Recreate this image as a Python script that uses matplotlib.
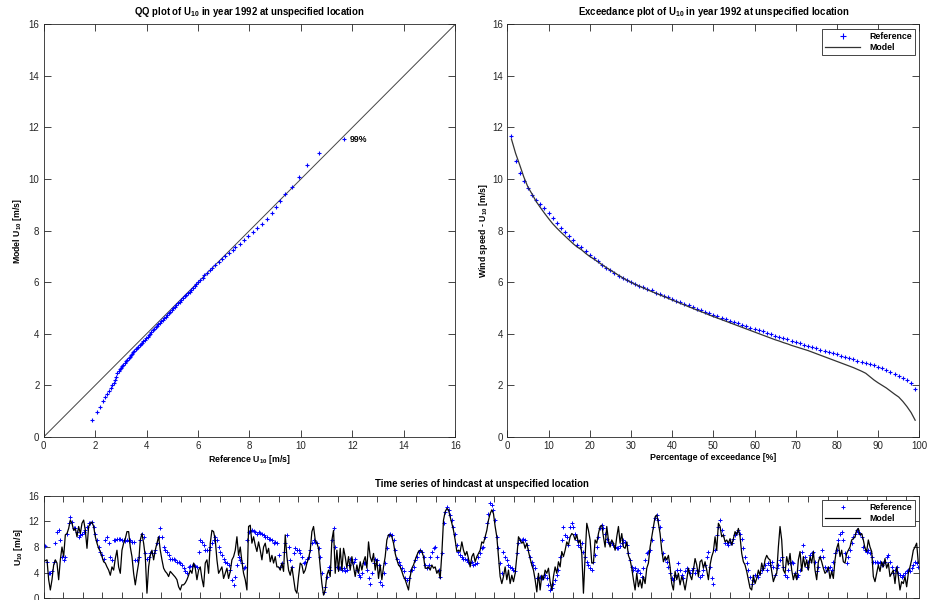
import numpy as np
import matplotlib
matplotlib.use("Agg")
import matplotlib.pyplot as plt

plt.rcParams['font.family'] = ['Liberation Sans', 'DejaVu Sans']
plt.rcParams['mathtext.fontset'] = 'custom'
plt.rcParams['mathtext.rm'] = 'Liberation Sans'
plt.rcParams['mathtext.bf'] = 'Liberation Sans:bold'
plt.rcParams['mathtext.default'] = 'bf'

# exceedance percentages 1..99 and the matching quantiles (m/s)
exceed_pct = list(range(1, 100))
ref_quant = [11.68, 10.71, 10.22, 9.94, 9.64, 9.40, 9.19, 9.03, 8.86, 8.68,
             8.49, 8.31, 8.12, 7.95, 7.79, 7.62, 7.45, 7.35, 7.21, 7.05,
             6.94, 6.81, 6.67, 6.56, 6.46, 6.34, 6.24, 6.18, 6.09, 5.99,
             5.93, 5.87, 5.81, 5.74, 5.68, 5.60, 5.54, 5.48, 5.42, 5.35,
             5.29, 5.22, 5.16, 5.10, 5.04, 4.98, 4.92, 4.86, 4.80, 4.74,
             4.68, 4.63, 4.57, 4.51, 4.46, 4.41, 4.35, 4.30, 4.24, 4.19,
             4.14, 4.09, 4.04, 3.98, 3.93, 3.88, 3.83, 3.78, 3.73, 3.68,
             3.63, 3.58, 3.53, 3.49, 3.44, 3.39, 3.35, 3.30, 3.25, 3.20,
             3.15, 3.10, 3.05, 3.01, 2.96, 2.91, 2.87, 2.82, 2.78, 2.73,
             2.66, 2.60, 2.53, 2.45, 2.38, 2.30, 2.19, 2.08, 1.87]
model_quant = [11.55, 11.00, 10.55, 10.08, 9.69, 9.42, 9.13, 8.90, 8.68, 8.47,
               8.27, 8.10, 7.94, 7.79, 7.64, 7.49, 7.36, 7.26, 7.12, 7.00,
               6.90, 6.79, 6.68, 6.57, 6.47, 6.37, 6.27, 6.17, 6.08, 6.00,
               5.92, 5.85, 5.78, 5.71, 5.64, 5.58, 5.51, 5.45, 5.38, 5.31,
               5.25, 5.18, 5.12, 5.05, 4.99, 4.92, 4.86, 4.80, 4.73, 4.67,
               4.61, 4.55, 4.49, 4.43, 4.37, 4.31, 4.25, 4.19, 4.13, 4.07,
               4.01, 3.95, 3.89, 3.83, 3.77, 3.72, 3.66, 3.61, 3.55, 3.50,
               3.45, 3.40, 3.35, 3.29, 3.23, 3.17, 3.11, 3.05, 2.99, 2.93,
               2.87, 2.81, 2.75, 2.69, 2.62, 2.55, 2.47, 2.34, 2.21, 2.10,
               2.00, 1.90, 1.78, 1.66, 1.55, 1.38, 1.18, 0.95, 0.65]

# hindcast time series, one value every 17 h
ts_step_h = 17
ref_ts = [
    8.3, 8.2, 5.7, 3.9, 3.9, 4.2, 5.7, 8.6, 10.4, 10.6,
    9.1, 6.5, 6.0, 6.5, 10.1, 11.7, 12.7, 11.9, 10.9, 10.9,
    10.4, 9.6, 9.9, 10.1, 10.4, 10.6, 11.2, 11.7, 11.7, 11.9,
    11.2, 10.1, 9.1, 8.0, 7.3, 6.7, 6.2, 9.1, 9.6, 8.6,
    6.5, 6.0, 9.1, 9.1, 9.2, 9.3, 9.2, 9.1, 9.1, 9.0,
    9.1, 9.0, 9.1, 8.8, 8.8, 6.0, 6.0, 6.5, 9.1, 10.1,
    9.6, 7.0, 6.2, 6.5, 7.0, 7.0, 7.0, 7.5, 8.6, 9.6,
    10.9, 9.6, 8.0, 7.5, 7.3, 6.7, 6.2, 6.2, 6.2, 6.0,
    5.7, 5.7, 5.5, 5.2, 4.7, 4.2, 3.9, 4.9,
    5.0, 5.0, 5.2, 5.0, 4.9, 7.3, 9.1, 8.8, 8.3, 7.5,
    7.5, 7.6, 8.0, 8.6, 9.1, 9.6, 9.1, 8.0, 7.3, 6.7,
    6.2, 5.7, 5.5, 5.2, 4.4, 2.9, 2.1, 3.4, 5.2, 6.5,
    6.0, 5.5, 4.7, 4.9, 9.1, 10.4, 10.5, 10.6, 10.5, 10.4,
    10.1, 10.4, 10.2, 10.1, 9.9, 9.6, 9.5, 9.3, 9.2, 9.1,
    8.6, 8.8, 8.6, 6.7, 4.9, 5.5, 7.3, 8.6, 9.9, 8.0,
    6.0, 4.9, 7.0, 7.8, 7.6, 7.5, 7.0, 6.5, 5.5, 5.7,
    6.1, 6.5, 7.5, 8.6, 9.1, 8.8, 8.6, 7.8, 6.5, 3.9,
    1.0, 1.8, 3.4, 4.9, 4.4, 9.1, 10.9,
    8.0, 4.9, 4.7, 4.7, 4.4, 4.7, 4.2, 4.4, 5.2, 6.2,
    5.7, 5.7, 6.2, 4.4, 3.6, 3.4, 3.9, 5.5, 5.5, 4.4,
    3.1, 2.3, 3.9, 5.5, 6.2, 6.0, 5.2, 2.6, 2.1, 3.9,
    5.5, 7.8, 9.9, 10.1, 9.9, 9.1, 7.5, 6.2, 5.7, 5.2,
    4.7, 4.2, 3.1, 2.9, 3.1, 4.2, 4.4, 4.9, 6.0, 6.5,
    7.3, 7.5, 7.3, 6.5, 5.2, 4.7, 5.2, 6.5, 7.3, 7.8,
    8.0, 6.5, 4.4, 3.4, 7.0, 11.7, 13.5, 14.3, 13.8, 13.0,
    12.2, 11.2, 10.1, 8.3, 7.3, 6.7, 6.5, 6.2, 6.1, 6.0,
    5.7, 5.5, 5.7, 5.2, 5.3, 5.5, 6.5,
    7.0, 7.8, 8.0, 9.6, 11.7, 13.2, 14.8, 14.5, 13.8, 12.2,
    9.6, 7.8, 5.5, 3.9, 7.3, 6.5, 6.0, 5.2, 4.9, 4.7,
    4.4, 4.2, 7.0, 8.6, 9.1, 9.1, 9.3, 9.1, 8.3, 7.5,
    6.5, 5.7, 5.2, 4.7, 3.1, 3.1, 3.4, 3.1, 3.4, 3.6,
    3.1, 2.1, 1.3, 1.6, 2.3, 2.9, 3.6, 4.4, 6.5, 9.1,
    11.2, 9.9, 9.6, 8.3, 11.2, 11.7, 11.2, 10.1, 9.1, 8.3,
    8.0, 8.6, 7.3, 6.5, 5.7, 5.2, 4.7, 4.4, 5.7, 6.7,
    8.0, 9.6, 10.9, 11.4, 10.9, 10.1, 9.3, 8.8, 8.7, 8.6,
    8.3, 8.0, 7.8, 7.8, 8.2, 8.6, 9.1,
    8.8, 8.3, 7.0, 6.0, 4.9, 4.4, 4.7, 4.2, 4.4, 3.9,
    3.4, 4.7, 6.0, 7.0, 7.3, 7.5, 9.1, 11.2, 12.5, 13.0,
    12.2, 11.2, 9.1, 7.0, 6.2, 5.7, 4.9, 3.9, 3.1, 2.9,
    3.6, 4.4, 5.5, 4.4, 3.6, 3.1, 4.2, 4.7, 4.4, 3.9,
    4.4, 4.7, 3.9, 4.4, 4.2, 3.4, 3.6, 4.4, 5.2, 6.5,
    7.3, 4.9, 3.1, 2.3, 7.5, 9.9, 11.2, 12.2, 10.6, 9.9,
    8.6, 8.6, 8.3, 8.8, 8.6, 9.3, 9.9, 10.4, 10.6, 10.1,
    9.3, 7.8, 6.5, 5.5, 4.4, 3.4, 2.3, 2.9, 3.6, 3.6,
    3.4, 3.9, 4.4, 4.7, 5.2, 4.4, 5.5,
    5.2, 5.7, 4.9, 3.6, 4.7, 5.2, 6.0, 6.5, 4.9, 3.6,
    3.4, 4.4, 5.5, 5.7, 5.5, 3.9, 3.4, 3.6, 4.4, 7.3,
    8.3, 6.5, 4.9, 5.7, 6.7, 7.0, 7.3, 5.7, 4.2, 4.9,
    6.5, 7.5, 6.5, 4.9, 4.4, 4.7, 4.9, 4.4, 5.7, 7.0,
    7.5, 9.1, 10.1, 10.4, 9.1, 7.0, 5.5, 6.5, 7.5, 8.6,
    9.6, 10.1, 10.6, 10.4, 10.1, 9.6, 8.0, 7.5, 7.3, 7.5,
    7.0, 6.5, 5.7, 5.7, 5.7, 5.5, 5.7, 5.2, 5.5, 5.7,
    6.5, 6.7, 5.7, 4.9, 3.9, 4.4, 4.9, 3.9, 3.6, 3.4,
    3.6, 3.9, 4.2, 4.4, 4.2, 4.7, 5.2, 5.7, 5.5, 4.9]
model_ts = [
    5.7, 5.9, 6.0, 2.9, 1.3, 2.9, 5.2, 6.0, 5.5, 2.9,
    6.0, 8.0, 6.5, 9.9, 10.1, 10.9, 12.2, 11.7, 10.6, 10.9,
    9.6, 11.2, 10.1, 11.7, 12.2, 10.6, 7.8, 11.2, 11.7, 11.9,
    11.2, 9.6, 8.6, 7.8, 7.3, 6.5, 5.7, 5.5, 4.9, 4.4,
    3.6, 4.9, 4.4, 6.2, 7.5, 4.9, 3.9, 7.5, 8.6, 9.3,
    10.4, 10.4, 8.0, 6.5, 3.9, 2.1, 3.9, 5.5, 9.1, 10.1,
    8.6, 6.5, 0.8, 4.9, 6.7, 7.5, 6.0, 7.5, 8.6, 9.6,
    7.5, 6.0, 4.7, 4.2, 3.9, 3.4, 4.2, 3.9, 3.6, 3.3,
    2.9, 1.8, 1.3, 2.1, 2.1, 2.4, 2.9, 3.6,
    4.4, 3.9, 5.5, 4.7, 2.9, 4.4, 4.9, 3.1, 1.8, 5.5,
    6.0, 3.9, 8.6, 10.6, 10.4, 9.1, 6.0, 3.9, 4.4, 4.9,
    3.1, 3.9, 4.7, 3.1, 4.2, 6.0, 6.5, 7.5, 9.6, 6.7,
    8.0, 5.7, 3.9, 2.9, 1.3, 11.2, 11.4, 8.6, 9.6, 8.3,
    7.3, 8.8, 7.5, 6.0, 8.0, 8.6, 7.0, 7.8, 5.7, 6.7,
    5.5, 6.5, 4.9, 4.9, 4.4, 5.5, 4.2, 9.9, 6.5, 4.4,
    3.6, 4.9, 3.1, 1.3, 0.8, 3.4, 5.5, 5.2, 3.9, 4.4,
    5.5, 6.2, 7.5, 10.4, 11.2, 9.1, 8.6, 7.8, 4.9, 2.3,
    0.5, 1.3, 3.6, 4.4, 3.4, 9.1, 10.6,
    3.9, 7.5, 4.2, 7.8, 4.4, 7.8, 6.5, 4.7, 6.5, 4.4,
    6.5, 4.9, 3.4, 5.2, 3.9, 5.7, 4.4, 5.7, 6.5, 4.7,
    8.8, 6.5, 5.7, 7.0, 4.4, 6.0, 3.1, 5.2, 2.9, 4.9,
    6.5, 9.1, 9.9, 9.9, 9.6, 8.6, 7.0, 6.0, 5.2, 4.9,
    4.2, 3.4, 2.9, 2.1, 1.3, 3.4, 4.7, 5.2, 6.0, 6.7,
    7.3, 7.5, 7.3, 6.5, 4.7, 4.7, 4.9, 4.4, 5.2, 4.7,
    4.9, 3.9, 4.4, 3.1, 7.0, 12.2, 13.5, 14.0, 13.8, 12.7,
    11.7, 10.6, 9.1, 7.3, 7.5, 7.3, 8.8, 7.5, 6.7, 7.3,
    6.2, 4.9, 6.5, 7.0, 5.7, 6.5, 7.0,
    7.5, 8.8, 8.6, 9.6, 10.6, 12.2, 13.2, 13.8, 13.2, 11.2,
    9.6, 6.5, 3.4, 2.3, 3.4, 4.9, 2.9, 4.4, 2.3, 3.6,
    2.6, 3.9, 6.5, 9.6, 9.1, 8.6, 8.8, 7.8, 8.6, 7.3,
    6.2, 5.2, 4.4, 2.9, 1.0, 3.9, 1.3, 3.6, 2.9, 4.4,
    3.9, 4.7, 2.6, 1.3, 3.4, 4.9, 3.9, 5.7, 4.9, 7.3,
    6.5, 7.5, 8.8, 8.3, 9.6, 10.1, 9.9, 9.1, 9.9, 8.6,
    9.1, 7.0, 0.8, 6.5, 11.7, 10.6, 9.1, 5.5, 5.5, 9.1,
    8.6, 10.1, 11.2, 11.4, 9.6, 8.0, 11.2, 9.1, 8.0, 9.1,
    8.6, 7.5, 9.6, 11.2, 8.6, 10.1, 8.0,
    7.8, 8.8, 6.7, 6.0, 4.7, 2.9, 1.3, 3.9, 1.8, 2.9,
    1.6, 3.4, 2.3, 4.7, 5.5, 8.0, 9.6, 11.2, 12.7, 13.0,
    11.7, 10.1, 7.5, 5.7, 6.5, 6.0, 6.7, 4.9, 2.3, 1.3,
    4.2, 2.9, 3.9, 2.1, 3.4, 2.6, 1.3, 2.9, 4.7, 3.6,
    2.9, 4.4, 6.2, 5.2, 3.4, 5.7, 6.0, 4.7, 5.7, 4.4,
    2.9, 5.2, 6.5, 7.3, 9.6, 7.5, 11.7, 11.2, 9.6, 9.9,
    8.8, 9.1, 8.6, 9.3, 8.3, 9.3, 10.4, 9.9, 10.9, 9.6,
    7.0, 5.7, 5.2, 4.2, 2.9, 1.6, 1.3, 3.6, 2.3, 3.1,
    4.4, 3.6, 5.5, 4.4, 6.0, 6.7, 6.2,
    6.0, 4.2, 2.6, 3.4, 3.9, 8.0, 11.2, 9.1, 4.4, 3.9,
    6.5, 5.2, 7.0, 4.4, 2.9, 3.9, 2.9, 6.0, 7.3, 4.2,
    6.5, 4.9, 6.0, 4.4, 6.5, 5.5, 7.3, 4.4, 2.9, 5.7,
    6.5, 5.7, 4.7, 3.9, 4.2, 4.9, 3.1, 4.2, 3.1, 6.0,
    7.8, 8.6, 6.5, 7.5, 5.7, 5.5, 7.0, 7.5, 8.0, 9.1,
    9.3, 9.6, 10.6, 10.9, 9.9, 10.1, 9.1, 7.8, 7.3, 9.1,
    8.0, 7.3, 3.4, 2.6, 3.9, 5.2, 4.2, 5.7, 4.9, 6.2,
    4.7, 5.5, 3.4, 3.9, 4.4, 2.3, 4.9, 3.4, 1.3, 2.6,
    2.3, 3.4, 1.8, 3.9, 4.9, 6.0, 7.5, 8.0, 8.6, 5.5]

ts_hours = np.arange(len(ref_ts)) * ts_step_h

BLUE = '#0000ff'
AXC = '#262626'
LBL = 6.3


def style_axes(ax, ticklen=5):
    ax.tick_params(direction='in', top=True, right=True, length=ticklen,
                   width=0.6, colors=AXC, labelsize=7, labelcolor=AXC, pad=3)
    for s in ax.spines.values():
        s.set_color(AXC)
        s.set_linewidth(0.6)


def add_legend(ax):
    leg = ax.legend(loc='upper right', frameon=True, fancybox=False,
                    handlelength=4.0, borderaxespad=0.5, borderpad=0.35,
                    labelspacing=0.25, handletextpad=1.0, framealpha=1,
                    markerscale=1.2, prop={'weight': 'bold', 'size': LBL})
    leg.get_frame().set_edgecolor(AXC)
    leg.get_frame().set_linewidth(0.6)


fig = plt.figure(figsize=(9.35, 6.0), dpi=100)

# QQ plot
ax1 = fig.add_axes([0.0467, 0.2717, 0.4402, 0.6878])
ax1.plot([0, 16], [0, 16], color='#444444', lw=0.7)
ax1.plot(ref_quant, model_quant, '+', color=BLUE, ms=3.5, mew=0.8)
ax1.text(ref_quant[0] + 0.2, model_quant[0], '99%', fontsize=LBL,
         fontweight='bold', va='center', ha='left')
ax1.set_xlim(0, 16)
ax1.set_ylim(0, 16)
ax1.set_xticks(range(0, 17, 2))
ax1.set_yticks(range(0, 17, 2))
ax1.set_title('QQ plot of U$_{10}$ in year 1992 at unspecified location',
              fontsize=6.9, fontweight='bold', pad=7)
ax1.set_xlabel('Reference U$_{10}$ [m/s]', fontsize=LBL, fontweight='bold', labelpad=1)
ax1.set_ylabel('Model U$_{10}$ [m/s]', fontsize=LBL, fontweight='bold', labelpad=3)
style_axes(ax1)

# exceedance plot
ax2 = fig.add_axes([0.5426, 0.2717, 0.4406, 0.6878])
ax2.plot(exceed_pct, ref_quant, '+', color=BLUE, ms=3.5, mew=0.8, label='Reference')
ax2.plot(exceed_pct, model_quant, '-', color='#333333', lw=0.9, label='Model')
ax2.set_xlim(0, 100)
ax2.set_ylim(0, 16)
ax2.set_xticks(range(0, 101, 10))
ax2.set_yticks(range(0, 17, 2))
ax2.set_title('Exceedance plot of U$_{10}$ in year 1992 at unspecified location',
              fontsize=6.9, fontweight='bold', pad=7)
ax2.set_xlabel('Percentage of exceedance [%]', fontsize=LBL, fontweight='bold', labelpad=1)
ax2.set_ylabel('Wind speed - U$_{10}$ [m/s]', fontsize=LBL, fontweight='bold', labelpad=2)
style_axes(ax2)
add_legend(ax2)

# time series
ax3 = fig.add_axes([0.0467, 0.0028, 0.9365, 0.171])
ax3.plot(ts_hours, ref_ts, '+', color=BLUE, ms=3.0, mew=0.7, label='Reference')
ax3.plot(ts_hours, model_ts, '-', color='black', lw=0.9, label='Model')
ax3.set_xlim(0, 8935)
ax3.set_ylim(0, 16)
ax3.set_yticks(range(0, 17, 4))
ax3.set_xticks(np.arange(0, 8935, 200))
ax3.set_xticklabels([])
ax3.set_title('Time series of hindcast at unspecified location',
              fontsize=6.9, fontweight='bold', pad=6)
ax3.set_ylabel('U$_{10}$ [m/s]', fontsize=LBL, fontweight='bold', labelpad=2.5)
style_axes(ax3, ticklen=4)
add_legend(ax3)

fig.savefig('out.png', dpi=100)
